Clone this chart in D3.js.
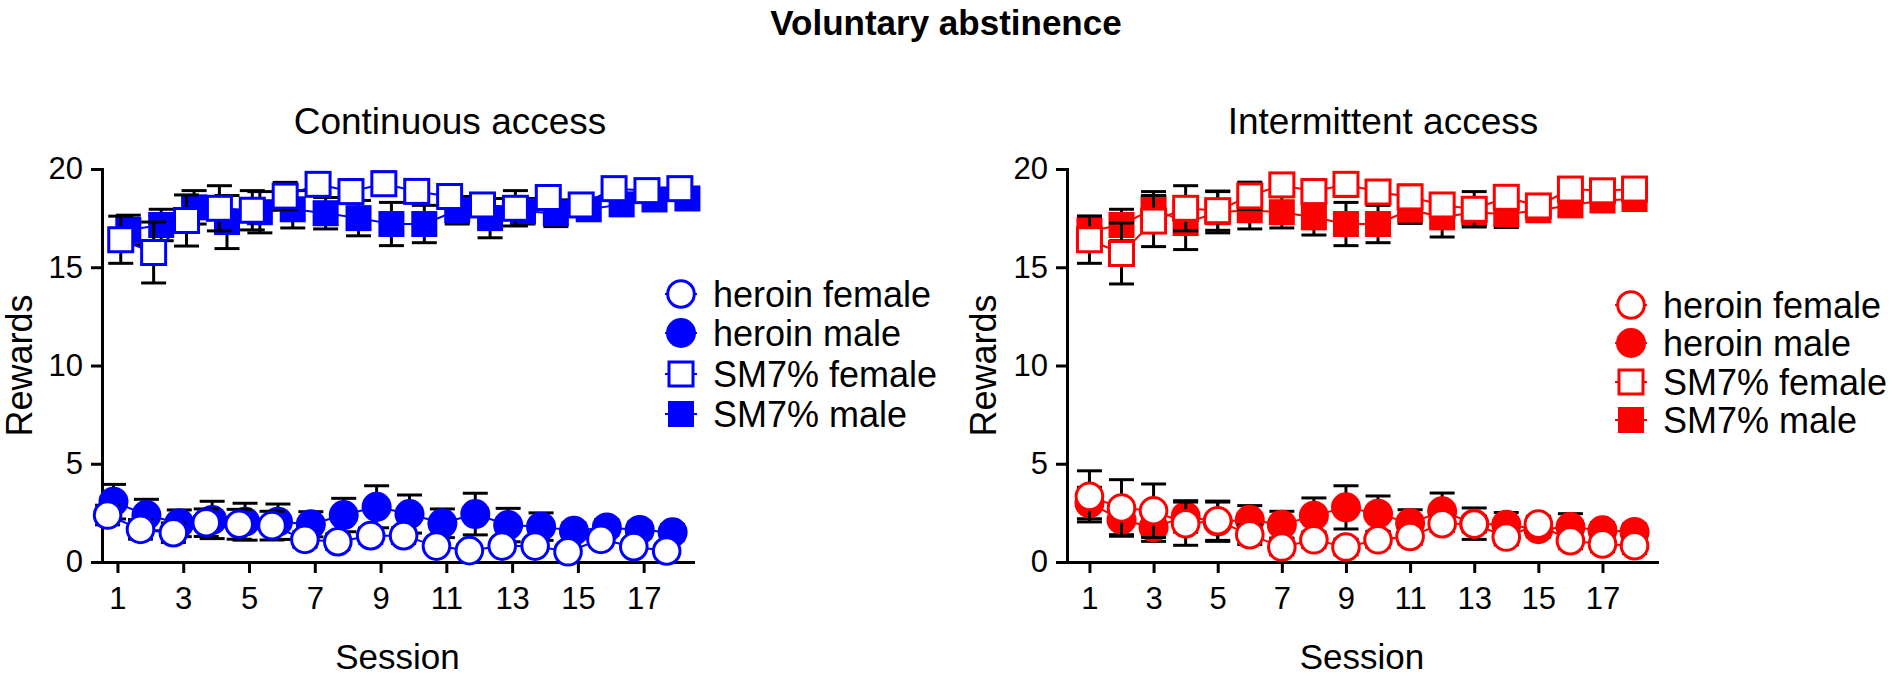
<!DOCTYPE html>
<html>
<head>
<meta charset="utf-8">
<script src="https://cdn.jsdelivr.net/npm/d3@7"></script>
<style>
  html, body { margin: 0; padding: 0; background: #fff; }
  svg { display: block; font-family: "Liberation Sans", Arial, sans-serif; }
</style>
</head>
<body>
<svg id="chart" width="1892" height="677"></svg>
<script>
// ---------- data ----------
const sessions = [1,2,3,4,5,6,7,8,9,10,11,12,13,14,15,16,17,18];
const xTickValues = [1,3,5,7,9,11,13,15,17];
const yTickValues = [0,5,10,15,20];
const seriesNames = ["heroin female", "heroin male", "SM7% female", "SM7% male"];

// Continuous access
const contHeroinFemale    = [2.39,1.66,1.49,2.00,1.92,1.85,1.15,1.03,1.34,1.34,0.81,0.58,0.81,0.81,0.52,1.15,0.78,0.56];
const contHeroinFemaleSem = [0.50,0.50,0.50,0.70,0.76,0.73,0.40,0.40,0.40,0.40,0.30,0.30,0.30,0.30,0.30,0.30,0.30,0.30];
const contHeroinMale      = [3.07,2.39,1.97,2.14,2.05,2.05,1.92,2.39,2.81,2.44,1.97,2.44,1.88,1.80,1.59,1.76,1.63,1.51];
const contHeroinMaleSem   = [0.88,0.80,0.68,0.95,0.94,0.90,0.64,0.85,1.07,0.97,0.73,1.06,0.85,0.70,0.40,0.40,0.40,0.40];
const contSmFemale        = [16.40,15.75,17.38,18.00,17.90,18.62,19.22,18.85,19.25,18.86,18.60,18.17,18.00,18.55,18.17,19.00,18.90,19.00];
const contSmFemaleSem     = [1.20,1.55,1.30,1.15,1.00,0.70,0.50,0.60,0.60,0.50,0.60,0.50,0.90,0.60,0.50,0.40,0.40,0.40];
const contSmMale          = [16.90,17.15,18.05,17.30,17.80,17.95,17.75,17.50,17.20,17.20,17.90,17.50,17.85,17.75,17.95,18.20,18.45,18.50];
const contSmMaleSem       = [0.75,0.80,0.85,1.35,1.05,0.95,0.80,0.90,1.10,0.95,0.70,1.00,0.65,0.68,0.55,0.50,0.35,0.35];

// Intermittent access
const intHeroinFemale     = [3.34,2.75,2.61,1.95,2.10,1.39,0.76,1.13,0.76,1.13,1.30,1.95,1.93,1.27,1.93,1.08,0.92,0.83];
const intHeroinFemaleSem  = [1.30,1.44,1.36,1.10,1.00,0.50,0.40,0.40,0.40,0.40,0.40,0.40,0.40,0.40,0.40,0.40,0.40,0.40];
const intHeroinMale       = [3.00,2.15,1.76,2.32,2.05,2.15,1.90,2.36,2.78,2.46,1.98,2.58,1.95,1.90,1.67,1.78,1.61,1.53];
const intHeroinMaleSem    = [0.80,0.76,0.71,0.80,1.00,0.72,0.68,0.90,1.10,0.90,0.68,0.93,0.80,0.62,0.40,0.68,0.40,0.40];
const intSmFemale         = [16.40,15.70,17.35,18.00,17.88,18.63,19.19,18.85,19.22,18.83,18.58,18.17,17.95,18.56,18.12,18.98,18.89,18.98];
const intSmFemaleSem      = [1.20,1.55,1.30,1.15,1.00,0.70,0.50,0.60,0.60,0.50,0.60,0.50,0.90,0.60,0.50,0.40,0.40,0.40];
const intSmMale           = [16.85,17.15,18.00,17.25,17.80,17.90,17.80,17.54,17.20,17.20,17.93,17.54,17.80,17.70,17.90,18.15,18.40,18.47];
const intSmMaleSem        = [0.75,0.80,0.85,1.35,1.05,0.95,0.80,0.90,1.10,0.95,0.70,1.00,0.65,0.68,0.55,0.50,0.35,0.35];

// ---------- drawing ----------
const svg = d3.select("#chart");
const FONT = "'Liberation Sans', Arial, sans-serif";

svg.append("text").attr("x", 946).attr("y", 22).attr("text-anchor", "middle")
  .attr("dominant-baseline", "central").attr("font-size", 35).attr("font-weight", "bold")
  .text("Voluntary abstinence");

const panels = [
  {
    title: "Continuous access", titleX: 450, color: "#0000ff",
    xDomain: [0.53, 18.5], xRange: [102, 693],
    dodge: [-0.30, -0.12, 0.10, 0.33],
    data: [contHeroinFemale, contHeroinMale, contSmFemale, contSmMale],
    sem: [contHeroinFemaleSem, contHeroinMaleSem, contSmFemaleSem, contSmMaleSem],
    legendX: 681, legendRows: [294, 333, 374, 414], labelX: 19
  },
  {
    title: "Intermittent access", titleX: 1383, color: "#ff0000",
    xDomain: [0.3, 18.7], xRange: [1067, 1657],
    dodge: [0, 0, 0, 0],
    data: [intHeroinFemale, intHeroinMale, intSmFemale, intSmMale],
    sem: [intHeroinFemaleSem, intHeroinMaleSem, intSmFemaleSem, intSmMaleSem],
    legendX: 1631, legendRows: [305, 343, 382, 420], labelX: 983
  }
];

const yRange = [562, 169];
const shapes = [
  {type: "circle", filled: false},
  {type: "circle", filled: true},
  {type: "square", filled: false},
  {type: "square", filled: true}
];
const drawOrder = [1, 0, 3, 2]; // males first, females on top

function drawMarker(g, shape, cx, cy, color) {
  if (shape.type === "circle") {
    if (shape.filled) {
      g.append("circle").attr("cx", cx).attr("cy", cy).attr("r", 15).attr("fill", color);
    } else {
      g.append("circle").attr("cx", cx).attr("cy", cy).attr("r", 13.3)
        .attr("fill", "#fff").attr("stroke", color).attr("stroke-width", 3);
    }
  } else {
    if (shape.filled) {
      g.append("rect").attr("x", cx - 13).attr("y", cy - 13).attr("width", 26).attr("height", 26).attr("fill", color);
    } else {
      g.append("rect").attr("x", cx - 12).attr("y", cy - 12).attr("width", 24).attr("height", 24)
        .attr("fill", "#fff").attr("stroke", color).attr("stroke-width", 3);
    }
  }
}

panels.forEach(p => {
  const x = d3.scaleLinear().domain(p.xDomain).range(p.xRange);
  const y = d3.scaleLinear().domain([0, 20]).range(yRange);
  const g = svg.append("g");

  g.append("text").attr("x", p.titleX).attr("y", 121).attr("text-anchor", "middle")
    .attr("dominant-baseline", "central").attr("font-size", 37).text(p.title);

  const yAxis = d3.axisLeft(y).tickValues(yTickValues).tickSize(11).tickSizeOuter(0).tickPadding(8);
  const yg = g.append("g").attr("transform", `translate(${p.xRange[0]},0)`).call(yAxis);
  const xAxis = d3.axisBottom(x).tickValues(xTickValues).tickSize(11).tickSizeOuter(0).tickPadding(14);
  const xg = g.append("g").attr("transform", `translate(0,${yRange[0]})`).call(xAxis);
  [yg, xg].forEach(a => {
    a.select(".domain").attr("stroke", "#000").attr("stroke-width", 3).attr("stroke-linecap", "square");
    a.selectAll(".tick line").attr("stroke", "#000").attr("stroke-width", 3);
    a.selectAll(".tick text").attr("font-size", 31).attr("font-family", FONT).attr("fill", "#000");
  });

  g.append("text").attr("transform", `translate(${p.labelX},${(yRange[0] + yRange[1]) / 2}) rotate(-90)`)
    .attr("text-anchor", "middle").attr("dominant-baseline", "central").attr("font-size", 36).text("Rewards");
  g.append("text").attr("x", (p.xRange[0] + p.xRange[1]) / 2).attr("y", 656).attr("text-anchor", "middle")
    .attr("dominant-baseline", "central").attr("font-size", 35).text("Session");

  drawOrder.forEach(si => {
    const vals = p.data[si], sems = p.sem[si], dx = p.dodge[si];
    const sg = g.append("g");
    const line = d3.line().x((d, i) => x(sessions[i] + dx)).y(d => y(d));
    sg.append("path").datum(vals).attr("d", line).attr("fill", "none")
      .attr("stroke", p.color).attr("stroke-width", 2);
    vals.forEach((v, i) => {
      const cx = x(sessions[i] + dx);
      const y1 = y(v + sems[i]), y0 = y(v - sems[i]);
      sg.append("line").attr("x1", cx).attr("x2", cx).attr("y1", y1).attr("y2", y0)
        .attr("stroke", "#000").attr("stroke-width", 3);
      [y1, y0].forEach(yy => sg.append("line").attr("x1", cx - 12.5).attr("x2", cx + 12.5)
        .attr("y1", yy).attr("y2", yy).attr("stroke", "#000").attr("stroke-width", 3));
    });
    vals.forEach((v, i) => drawMarker(sg, shapes[si], x(sessions[i] + dx), y(v), p.color));
  });

  seriesNames.forEach((name, si) => {
    const ry = p.legendRows[si];
    const lg = g.append("g");
    lg.append("line").attr("x1", p.legendX - 16).attr("x2", p.legendX + 16).attr("y1", ry).attr("y2", ry)
      .attr("stroke", p.color).attr("stroke-width", 2);
    drawMarker(lg, shapes[si], p.legendX, ry, p.color);
    lg.append("text").attr("x", p.legendX + 32).attr("y", ry).attr("dominant-baseline", "central")
      .attr("font-size", 36).text(name);
  });
});
</script>
</body>
</html>
